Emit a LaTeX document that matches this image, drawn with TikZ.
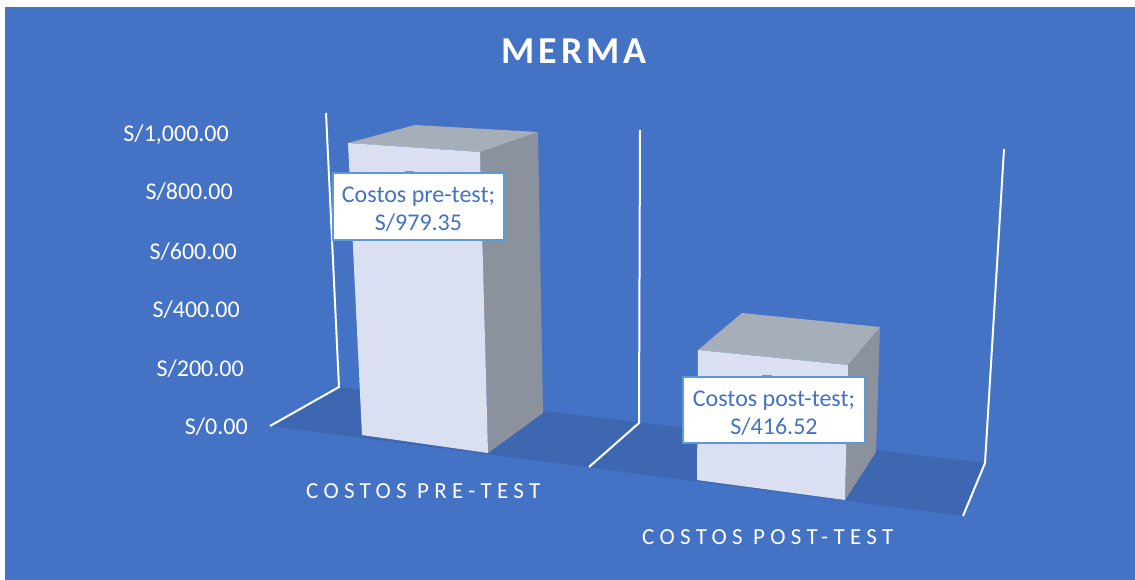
\documentclass[tikz,border=0pt]{standalone}
\usepackage{fontspec}
\setmainfont{Carlito}
\newfontfamily\catfont[LetterSpace=23]{Carlito}
\newfontfamily\ttlfont[LetterSpace=10]{Carlito}
\definecolor{bgblue}{HTML}{4472C4}
\definecolor{floorblue}{HTML}{3D67B0}
\definecolor{barfront}{HTML}{DAE0F1}
\definecolor{bartop}{HTML}{A6AEBA}
\definecolor{barside}{HTML}{8B929D}
\definecolor{lblborder}{HTML}{5B9BD5}
\definecolor{lbltext}{HTML}{4472C4}
\tikzset{
  wall/.style={draw=white, line width=2pt, line join=miter},
  axislbl/.style={anchor=base east, inner sep=0pt, text=white, font=\fontsize{24}{29}\selectfont},
  catlbl/.style={anchor=base west, inner sep=0pt, text=white, font=\catfont\fontsize{23}{26}\selectfont},
  lblbox/.style={draw=lblborder, line width=1.5pt, fill=white, inner sep=0pt},
  lbltxt/.style={text=lbltext, align=center, inner sep=0pt, font=\fontsize{24}{28}\selectfont},
  marker/.style={fill=lblborder, draw=none}
}
\begin{document}
\begin{tikzpicture}[x=1pt,y=-1pt]
\useasboundingbox (0,0) rectangle (1135,580);
\fill[white] (0,0) rectangle (1135,580);
\fill[bgblue] (5,7) rectangle (1135,580);
% floor
\fill[floorblue] (270,426) -- (339,387) -- (985,463) -- (963,516) -- cycle;
% walls / gridlines
\coordinate (wl1) at (326,113); \coordinate (wl2) at (339,387); \coordinate (wl3) at (270,426);
\coordinate (wm1) at (640,130); \coordinate (wm2) at (639,423); \coordinate (wm3) at (589,467);
\coordinate (wr1) at (1004,149); \coordinate (wr2) at (985,463); \coordinate (wr3) at (963,516);
\draw[wall] (wl1) -- (wl2) -- (wl3);
\draw[wall] (wm1) -- (wm2) -- (wm3);
\draw[wall] (wr1) -- (wr2) -- (wr3);
% bar 1
\fill[barside] (480,152) -- (538,132) -- (543,413) -- (488,453) -- cycle;
\fill[bartop] (348,143) -- (415,125) -- (538,132) -- (480,152) -- cycle;
\fill[barfront] (348,143) -- (480,152) -- (488,453) -- (362,435) -- cycle;
% bar 2
\fill[barside] (848,365) -- (880,327) -- (876,452) -- (845,500) -- cycle;
\fill[bartop] (698,350) -- (742,313) -- (880,327) -- (848,365) -- cycle;
\fill[barfront] (698,350) -- (848,365) -- (845,500) -- (697,480) -- cycle;
% title
\node[anchor=base, inner sep=0pt, text=white, font=\ttlfont\bfseries\fontsize{38}{42}\selectfont] (title) at (574,64) {MERMA};
% axis labels
\node[axislbl] (y1000) at (229,142) {S/1,000.00};
\node[axislbl] (y800) at (233,200) {S/800.00};
\node[axislbl] (y600) at (237,259) {S/600.00};
\node[axislbl] (y400) at (240,317) {S/400.00};
\node[axislbl] (y200) at (244,376) {S/200.00};
\node[axislbl] (y0) at (248,434) {S/0.00};
% category labels
\node[catlbl] (cat1) at (306,498) {COSTOS PRE-TEST};
\node[catlbl] (cat2) at (642,544) {COSTOS POST-TEST};
% data labels
\fill[marker] (405,171) rectangle (414,176);
\node[lblbox, minimum width=171pt, minimum height=67pt] (lbl1) at (418.5,206.5) {};
\node[lbltxt] (lbl1t) at ([yshift=-3pt]lbl1.center) {Costos pre-test;\\S/979.35};
\fill[marker] (762,375) rectangle (772,380);
\node[lblbox, minimum width=182pt, minimum height=66pt] (lbl2) at (774,410) {};
\node[lbltxt] (lbl2t) at ([yshift=-3pt]lbl2.center) {Costos post-test;\\S/416.52};
\end{tikzpicture}
\end{document}
